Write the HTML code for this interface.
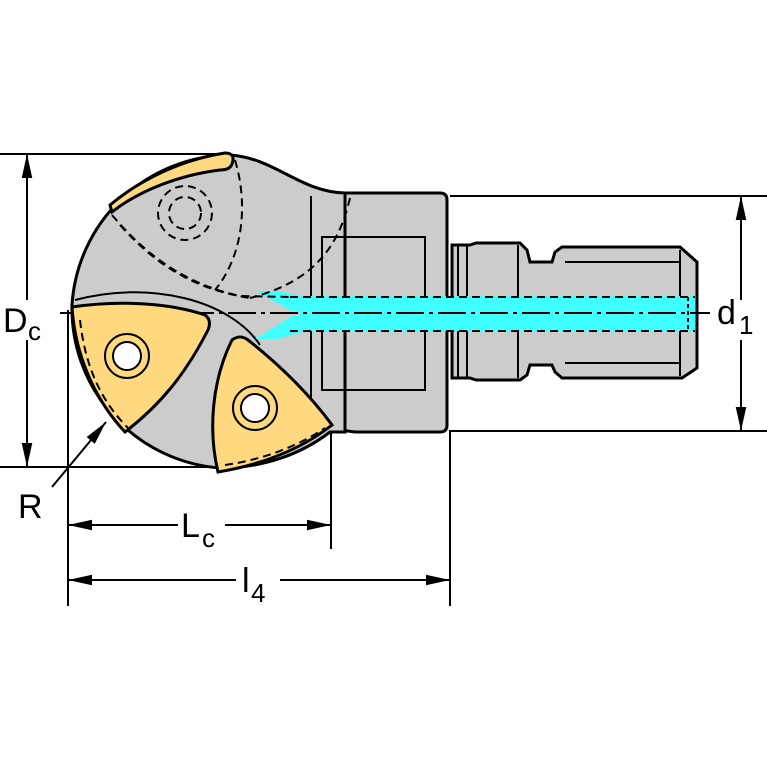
<!DOCTYPE html>
<html><head><meta charset="utf-8"><style>html,body{margin:0;padding:0;background:#fff}svg{display:block}text{font-family:"Liberation Sans",Arial,sans-serif;fill:#000}</style></head>
<body>
<svg width="767" height="767" viewBox="0 0 767 767" xmlns="http://www.w3.org/2000/svg">
<defs>
<marker id="ar2" viewBox="0 0 10 10" refX="10" refY="5" markerWidth="24" markerHeight="24" orient="auto-start-reverse" markerUnits="userSpaceOnUse"><path d="M0,2.8 L10,5 L0,7.2 Z" fill="#000"/></marker>
</defs>
<g stroke="#000" stroke-width="2" fill="none">
<line x1="0" y1="154" x2="230" y2="154"/>
<line x1="0" y1="467" x2="210" y2="467"/>
<line x1="450" y1="196" x2="767" y2="196"/>
<line x1="450" y1="431" x2="767" y2="431"/>
<line x1="27" y1="154" x2="27" y2="300" marker-start="url(#ar2)"/>
<line x1="27" y1="340" x2="27" y2="467" marker-end="url(#ar2)"/>
<line x1="741" y1="196" x2="741" y2="300" marker-start="url(#ar2)"/>
<line x1="741" y1="340" x2="741" y2="431" marker-end="url(#ar2)"/>
<line x1="68" y1="310" x2="68" y2="606"/>
<line x1="331" y1="430" x2="331" y2="549"/>
<line x1="450" y1="430" x2="450" y2="606"/>
<line x1="68" y1="525" x2="178" y2="525" marker-start="url(#ar2)"/>
<line x1="225" y1="525" x2="331" y2="525" marker-end="url(#ar2)"/>
<line x1="68" y1="580" x2="236" y2="580" marker-start="url(#ar2)"/>
<line x1="280" y1="580" x2="450" y2="580" marker-end="url(#ar2)"/>
<line x1="52" y1="487" x2="106" y2="422" marker-end="url(#ar2)"/>
</g>
<g stroke="#000" stroke-width="3" fill="#cccccc">
<path d="M452,245 L470,245 L476,243 L520,243 L527,250 L530,262 L552,262 L555,252 L562,247 L680,247 L697,262 L697,368 L682,378 L562,378 L555,372 L552,365 L530,365 L527,375 L520,380 L476,380 L470,378 L452,378 Z"/>
<path d="M345,193 L440,193 Q447,193 447,200 L447,425 Q447,432 440,432 L355,432 L340,430 Z"/>
<path d="M230,155 C275,158 300,192 345,193 L345,432 L330,432 C300,455 262,468 220,468 A160 160 0 0 1 72,305 A160 160 0 0 1 230,155 Z"/>
</g>
<g stroke="#000" stroke-width="2" fill="none">
<line x1="311" y1="196" x2="311" y2="425"/>
<rect x="322" y="237" width="103" height="153"/>
<line x1="458" y1="246" x2="458" y2="377"/><line x1="467" y1="246" x2="467" y2="377"/>
<line x1="518" y1="245" x2="518" y2="378"/>
<line x1="565" y1="262" x2="680" y2="262"/><line x1="565" y1="363" x2="680" y2="363"/>
<line x1="680" y1="250" x2="680" y2="376"/>
<path d="M75,300 C150,280 230,300 260,345"/>
</g>
<!-- coolant -->
<rect x="300" y="296" width="395" height="35" fill="#40ffff"/>
<path d="M255,291 L278,291 L305,297 L305,311 L292,311 Z" fill="#40ffff"/>
<path d="M255,339 L278,339 L305,331 L305,316 L292,316 Z" fill="#40ffff"/>
<g stroke="#000" stroke-width="2" stroke-dasharray="8,5" fill="none">
<line x1="290" y1="297" x2="695" y2="297"/><line x1="290" y1="331" x2="695" y2="331"/>
<line x1="688" y1="297" x2="688" y2="331" stroke-dasharray="4,3"/>
<path d="M112,215 C150,260 190,285 240,296 L290,297"/>
<path d="M120,225 C160,270 200,290 250,298"/>
<path d="M235,160 C250,210 240,260 215,290"/>
<path d="M350,198 C340,240 320,280 250,298"/>
<circle cx="185" cy="213" r="27"/><circle cx="185" cy="213" r="16"/>
</g>
<line x1="60" y1="313" x2="710" y2="313" stroke="#000" stroke-width="2" stroke-dasharray="28,5,4,5"/>
<path d="M110,205 C140,180 180,160 225,153 Q236,153 232,164 Q230,170 220,170 C180,175 140,190 112,212 Z" fill="#ffd980" stroke="#000" stroke-width="3"/>
<g stroke="#000" stroke-width="3" fill="#ffd980">
<path d="M72,307 C120,300 170,303 205,315 Q212,320 208,330 C185,375 160,405 125,432 C95,400 75,355 72,307 Z"/>
<path d="M232,340 Q240,334 248,340 C280,365 310,395 332,425 C300,450 260,465 218,472 C208,430 212,380 232,340 Z"/>
</g>
<g stroke="#000" stroke-width="2" fill="none">
<path d="M80,320 C85,365 100,400 128,428" stroke-dasharray="8,5"/>
<path d="M225,465 C260,460 295,448 325,428" stroke-dasharray="8,5"/>
<circle cx="127" cy="356" r="22"/><circle cx="255" cy="408" r="22"/>
</g>
<g stroke="#000" stroke-width="2" fill="#fff">
<circle cx="127" cy="356" r="14"/><circle cx="255" cy="408" r="14"/>
</g>
<text x="3" y="332" font-size="34">D</text><text x="28" y="340" font-size="26">c</text>
<text x="717" y="324" font-size="34">d</text><text x="739" y="334" font-size="26">1</text>
<text x="18" y="518" font-size="34">R</text>
<text x="181" y="537" font-size="34">L</text><text x="202" y="547" font-size="26">c</text>
<text x="242" y="592" font-size="34">l</text><text x="251" y="602" font-size="26">4</text>
</svg>
</body></html>
